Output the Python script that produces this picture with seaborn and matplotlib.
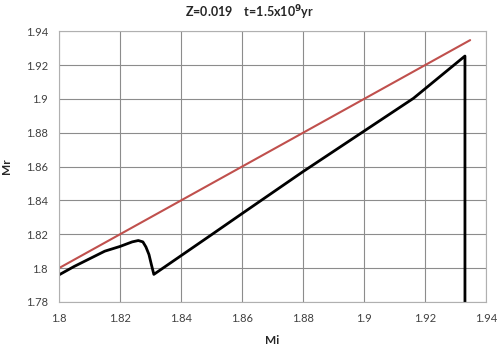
import pandas as pd
import matplotlib.pyplot as plt
import seaborn as sns

# initial mass vs remnant mass
mi_black = [1.800, 1.805, 1.810, 1.815, 1.820, 1.824, 1.826, 1.8275, 1.8285,
            1.8295, 1.8303, 1.8311, 1.8495, 1.860, 1.880, 1.9162, 1.9331, 1.9331]
mr_black = [1.796, 1.801, 1.8055, 1.810, 1.8128, 1.8155, 1.8163, 1.8155, 1.8125,
            1.808, 1.802, 1.7963, 1.8191, 1.8322, 1.857, 1.9003, 1.9253, 1.770]
mi_red = [1.800, 1.9348]
mr_red = [1.800, 1.9347]

x_ticks = [1.8, 1.82, 1.84, 1.86, 1.88, 1.9, 1.92, 1.94]
y_ticks = [1.78, 1.8, 1.82, 1.84, 1.86, 1.88, 1.9, 1.92, 1.94]

sns.set_style("white")
plt.rcParams['font.family'] = ['Lato', 'DejaVu Sans']

fig = plt.figure(figsize=(5, 3.54), dpi=100)
ax = fig.add_axes([0.118, 0.147, 0.854, 0.765])

black = pd.DataFrame({"Mi": mi_black, "Mr": mr_black})
red = pd.DataFrame({"Mi": mi_red, "Mr": mr_red})
sns.lineplot(data=red, x="Mi", y="Mr", color="#C0504D", linewidth=1.5, ax=ax,
             sort=False, estimator=None)
sns.lineplot(data=black, x="Mi", y="Mr", color="black", linewidth=2, ax=ax,
             sort=False, estimator=None)

ax.set_xlim(1.8, 1.94)
ax.set_ylim(1.78, 1.94)
ax.set_xticks(x_ticks)
ax.set_yticks(y_ticks)
ax.set_xticklabels([f"{v:g}" for v in x_ticks], fontsize=8, color="#404040")
ax.set_yticklabels([f"{v:g}" for v in y_ticks], fontsize=8, color="#404040")
ax.tick_params(length=0, pad=8)
ax.grid(True, color="#8c8c8c", linewidth=0.8)
for s in ax.spines.values():
    s.set_color("#b0b0b0")
    s.set_linewidth(0.8)

ax.set_xlabel("Mi", fontsize=8.5, fontweight="bold", labelpad=8)
ax.set_ylabel("Mr", fontsize=8.5, fontweight="bold", labelpad=10)
fig.text(0.5, 0.965, r"Z=0.019    t=1.5x10$^{\mathbf{9}}$yr", ha="center", va="center",
         fontsize=9, fontweight="bold")

fig.savefig("out.png", dpi=100)
